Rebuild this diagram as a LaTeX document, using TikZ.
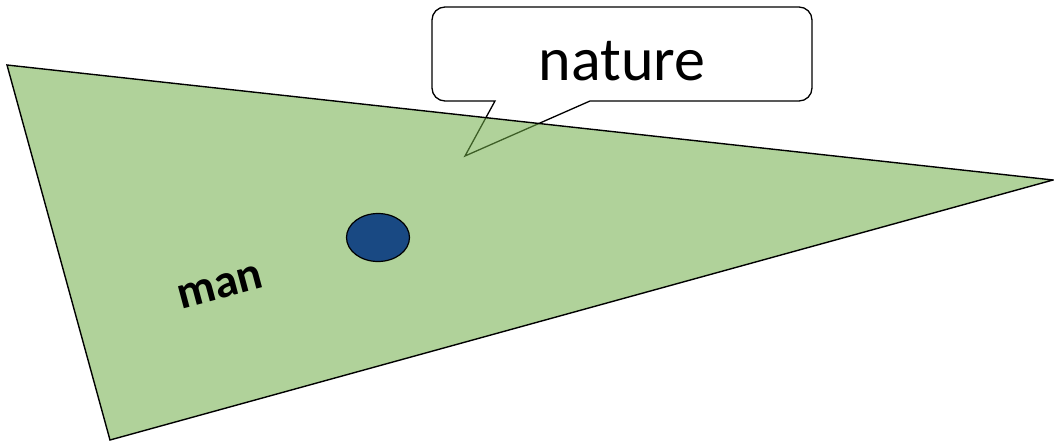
\documentclass[tikz,border=0pt]{standalone}
\usepackage{fontspec}
\setmainfont{Carlito}
\usetikzlibrary{shapes.geometric}
\definecolor{tri}{RGB}{112,173,71}
\definecolor{dot}{RGB}{25,73,131}
\begin{document}
\begin{tikzpicture}[x=1pt,y=-1pt,
  edge/.style={draw=black,line width=1.4pt,line join=miter},
  bubble/.style={draw=black,line width=1.3pt,line join=miter}]
\useasboundingbox (0,0) rectangle (1054,442);
% callout (drawn first, triangle is translucent on top)
\draw[bubble] (495,101) -- (465,156) -- (590,101) -- (799,101)
  .. controls (806.2,101) and (812,95.2) .. (812,88) -- (812,20)
  .. controls (812,12.8) and (806.2,7) .. (799,7) -- (445,7)
  .. controls (437.8,7) and (432,12.8) .. (432,20) -- (432,88)
  .. controls (432,95.2) and (437.8,101) .. (445,101) -- cycle;
\node[inner sep=0pt,anchor=base] (nat) at (622,80) {\fontsize{62}{70}\selectfont nature};
% triangle
\coordinate (A) at (7,65);
\coordinate (B) at (1053,180);
\coordinate (C) at (110,440);
\path[fill=tri,fill opacity=0.55] (A) -- (B) -- (C) -- cycle;
\draw[edge] (A) -- (B) -- (C) -- cycle;
% man
\node[draw=black,line width=1.2pt,fill=dot,ellipse,minimum width=63pt,minimum height=48pt,inner sep=0pt] (dotn) at (378,237.5) {};
\node[inner sep=0pt,rotate=15] (man) at (220,287) {\fontsize{47}{52}\selectfont\bfseries man};
\end{tikzpicture}
\end{document}
